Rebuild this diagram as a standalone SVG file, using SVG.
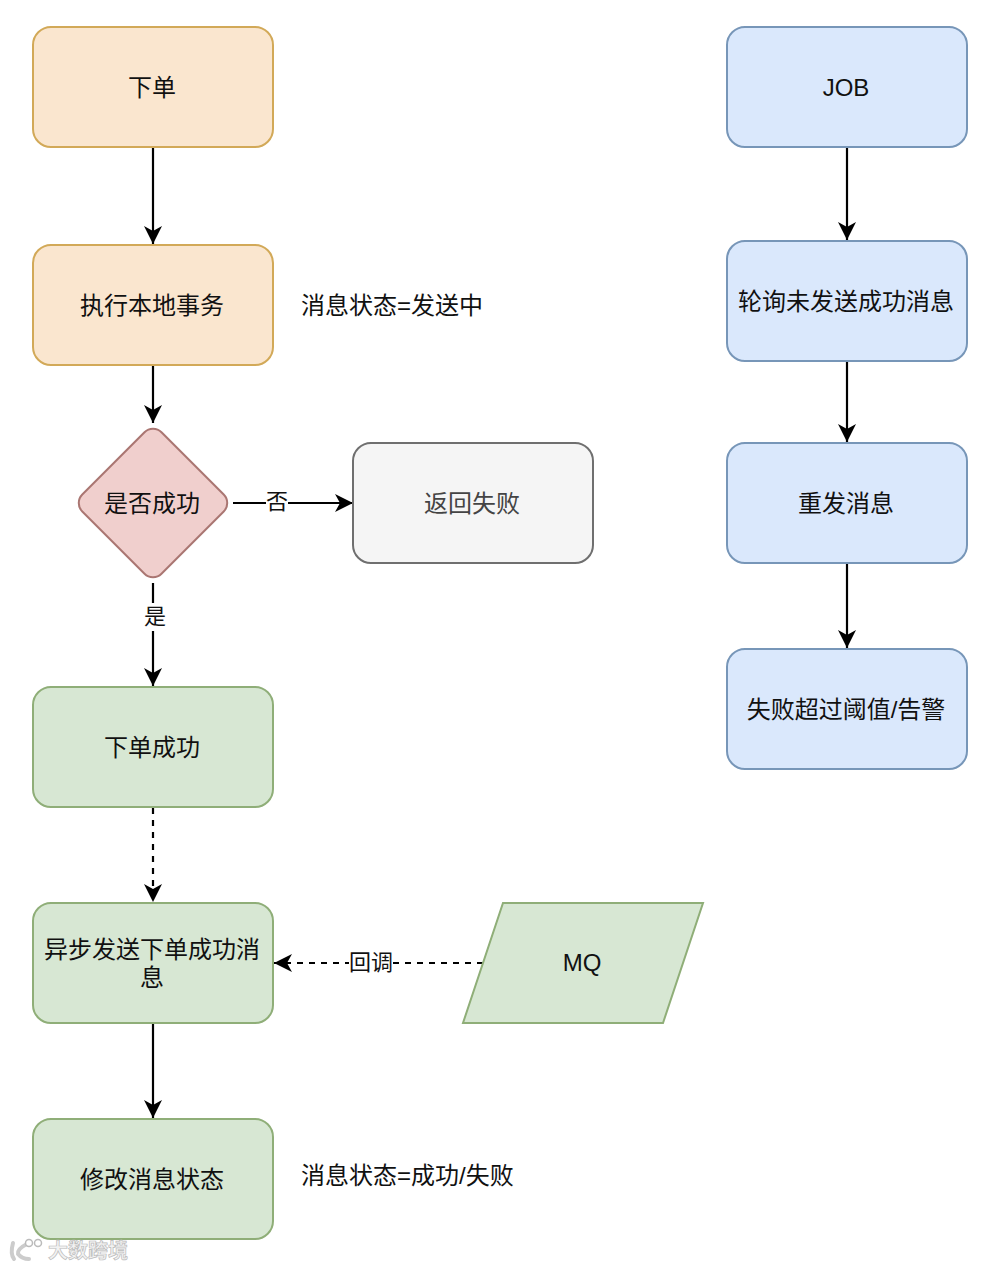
<svg xmlns="http://www.w3.org/2000/svg" width="986" height="1268" viewBox="0 0 986 1268">
<style>
text{font-family:"Liberation Sans","Noto Sans CJK SC",sans-serif;font-size:24px;fill:#111;text-anchor:middle}
.box{stroke-width:2}
.o{fill:#fae6cf;stroke:#d2a958}
.b{fill:#dae8fc;stroke:#7796b8}
.g{fill:#d7e7d3;stroke:#8fae78}
.w{fill:#f5f5f5;stroke:#6f6f6f}
.r{fill:#f0cfcd;stroke:#aa7672}
.l{text-anchor:start}
.e{fill:none;stroke:#000;stroke-width:2.2}
.d{stroke-dasharray:6 6}
.lb{font-size:22px}
.wm{font-size:20px;font-weight:bold;fill:#f2f2f2;stroke:#bbb;stroke-width:.7}
</style>
<defs>
<marker id="a" markerUnits="userSpaceOnUse" markerWidth="20" markerHeight="20" refX="18" refY="10" orient="auto">
<path d="M0 1 L18 10 L0 19 L5 10 Z" fill="#000"/>
</marker>
</defs>
<rect width="986" height="1268" fill="#fff"/>
<g id="connectors">
<path class="e" d="M153 148V244" marker-end="url(#a)"/>
<path class="e" d="M153 366V423" marker-end="url(#a)"/>
<path class="e" d="M233 503H353" marker-end="url(#a)"/>
<path class="e" d="M153 583V686" marker-end="url(#a)"/>
<path class="e d" d="M153 808V902" marker-end="url(#a)"/>
<path class="e" d="M153 1024V1118" marker-end="url(#a)"/>
<path class="e d" d="M483 963H274" marker-end="url(#a)"/>
<path class="e" d="M847 148V240" marker-end="url(#a)"/>
<path class="e" d="M847 362V442" marker-end="url(#a)"/>
<path class="e" d="M847 564V648" marker-end="url(#a)"/>
<rect x="266" y="488" width="22" height="28" fill="#fff"/>
<text class="lb" x="277" y="509">否</text>
<rect x="142" y="603" width="24" height="28" fill="#fff"/>
<text class="lb" x="155" y="624">是</text>
<rect x="349" y="949" width="44" height="28" fill="#fff"/>
<text class="lb" x="371" y="970">回调</text>
</g>
<g id="n-order"><rect class="box o" x="33" y="27" width="240" height="120" rx="18"/><text x="152" y="96">下单</text></g>
<g id="n-local"><rect class="box o" x="33" y="245" width="240" height="120" rx="18"/><text x="152" y="314">执行本地事务</text></g>
<g id="n-state1"><text class="l" x="301" y="314">消息状态=发送中</text></g>
<g id="n-decision"><rect class="box r" x="-56" y="-56" width="112" height="112" rx="12" transform="translate(153 503) rotate(45)"/><text x="152" y="512">是否成功</text></g>
<g id="n-fail"><rect class="box w" x="353" y="443" width="240" height="120" rx="18"/><text x="472" y="512" style="fill:#444">返回失败</text></g>
<g id="n-success"><rect class="box g" x="33" y="687" width="240" height="120" rx="18"/><text x="152" y="756">下单成功</text></g>
<g id="n-async"><rect class="box g" x="33" y="903" width="240" height="120" rx="18"/><text x="152" y="958">异步发送下单成功消</text><text x="152" y="986">息</text></g>
<g id="n-mq"><path class="box g" d="M503 903H703L663 1023H463Z"/><text x="582" y="971">MQ</text></g>
<g id="n-modify"><rect class="box g" x="33" y="1119" width="240" height="120" rx="18"/><text x="152" y="1188">修改消息状态</text></g>
<g id="n-state2"><text class="l" x="301" y="1184">消息状态=成功/失败</text></g>
<g id="n-job"><rect class="box b" x="727" y="27" width="240" height="120" rx="18"/><text x="846" y="96">JOB</text></g>
<g id="n-poll"><rect class="box b" x="727" y="241" width="240" height="120" rx="18"/><text x="846" y="310">轮询未发送成功消息</text></g>
<g id="n-resend"><rect class="box b" x="727" y="443" width="240" height="120" rx="18"/><text x="846" y="512">重发消息</text></g>
<g id="n-alarm"><rect class="box b" x="727" y="649" width="240" height="120" rx="18"/><text x="846" y="718">失败超过阈值/告警</text></g>
<g id="watermark">
<text class="wm l" x="48" y="1258">大数跨境</text>
<path d="M13 1243Q10 1254 14 1259M27 1244Q17 1249 18 1254Q22 1259 29 1259" fill="none" stroke="#ccc" stroke-width="4" stroke-linecap="round"/>
<circle cx="29" cy="1243" r="3.5" fill="#fff" stroke="#bbb" stroke-width="1.5"/>
<circle cx="38" cy="1243" r="3.5" fill="#fff" stroke="#bbb" stroke-width="1.5"/>
</g>
</svg>
